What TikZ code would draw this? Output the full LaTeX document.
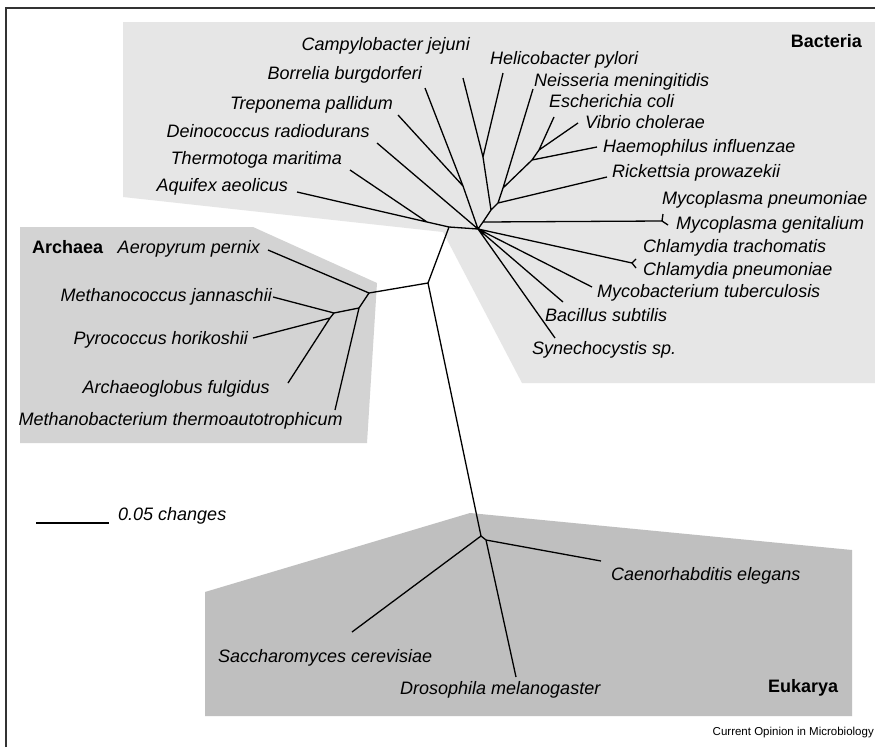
\documentclass[tikz,border=0pt]{standalone}
\usepackage{fontspec}
\setmainfont{Liberation Sans}
\definecolor{bact}{HTML}{E6E6E6}
\definecolor{arch}{HTML}{D3D3D3}
\definecolor{euk}{HTML}{BFBFBF}
\definecolor{framec}{HTML}{333333}
\begin{document}
\begin{tikzpicture}[x=1pt,y=-1pt,
  branch/.style={line width=1.3pt, black},
  sp/.style={font=\fontsize{18}{21}\selectfont\itshape, inner sep=0pt},
  dom/.style={font=\fontsize{18}{21}\selectfont\bfseries, inner sep=0pt},
  credit/.style={font=\fontsize{11.5}{14}\selectfont, inner sep=0pt},
  region/.style={draw=none}]
\useasboundingbox (0,0) rectangle (875,747);
\fill[white] (0,0) rectangle (875,747);
% shaded regions
\fill[bact] (123,22) -- (875,22) -- (875,383) -- (522,383) -- (443,232) -- (123,197) -- cycle;
\fill[arch] (20,227) -- (253,227) -- (377,283) -- (367,443) -- (20,443) -- cycle;
\fill[euk] (205,592) -- (470,513) -- (852,550) -- (852,716) -- (205,716) -- cycle;
% frame
\draw[line width=1.5pt, framec] (6,747) -- (6,8) -- (875,8);

% ---------- tree coordinates ----------
\coordinate (C) at (428,283);
% bacteria
\coordinate (J1) at (449,227);
\coordinate (J0) at (427,222);
\coordinate (H) at (478,229);
\coordinate (TB) at (463,186);
\coordinate (N1) at (483,222);
\coordinate (N2) at (491,210);
\coordinate (N3) at (498,203);
\coordinate (N4) at (503,188);
\coordinate (N5) at (532,160);
\coordinate (N6) at (539,150);
\coordinate (CH) at (483,157);
\coordinate (MY) at (662,221);
\coordinate (CL) at (632,263);
\coordinate (tAqu) at (297,192);
\coordinate (tThe) at (350,170);
\coordinate (tDei) at (377,143);
\coordinate (tTre) at (398,115);
\coordinate (tBor) at (425,88);
\coordinate (tCam) at (463,78);
\coordinate (tHel) at (503,73);
\coordinate (tNei) at (533,89);
\coordinate (tEsc) at (554,117);
\coordinate (tVib) at (578,123);
\coordinate (tHae) at (597,147);
\coordinate (tRic) at (607,177);
\coordinate (tMyp) at (663,214);
\coordinate (tMyg) at (668,225);
\coordinate (tClt) at (636,259);
\coordinate (tClp) at (636,268);
\coordinate (tMyc) at (592,287);
\coordinate (tBac) at (563,302);
\coordinate (tSyn) at (555,338);
% archaea
\coordinate (A1) at (369,293);
\coordinate (A2) at (359,308);
\coordinate (A3) at (334,313);
\coordinate (A4) at (330,318);
\coordinate (tAer) at (268,250);
\coordinate (tMba) at (335,410);
\coordinate (tMco) at (273,297);
\coordinate (tPyr) at (253,338);
\coordinate (tArc) at (288,383);
% eukarya
\coordinate (E1) at (481,536);
\coordinate (E2) at (486,540);
\coordinate (tSac) at (352,632);
\coordinate (tCae) at (601,561);
\coordinate (tDro) at (516,677);

% ---------- branches ----------
\draw[branch] (C) -- (J1) (J1) -- (H) (J1) -- (J0)
  (J0) -- (tAqu) (J0) -- (tThe)
  (H) -- (tDei) (H) -- (TB) (TB) -- (tTre) (TB) -- (tBor)
  (H) -- (N1) (N1) -- (N2) (N2) -- (N3) (N3) -- (N4) (N4) -- (N5) (N5) -- (N6)
  (N2) -- (CH) (CH) -- (tCam) (CH) -- (tHel)
  (N3) -- (tRic) (N4) -- (tNei) (N5) -- (tHae) (N6) -- (tEsc) (N6) -- (tVib)
  (N1) -- (MY) (MY) -- (tMyp) (MY) -- (tMyg)
  (H) -- (CL) (CL) -- (tClt) (CL) -- (tClp)
  (H) -- (tMyc) (H) -- (tBac) (H) -- (tSyn);
\draw[branch] (C) -- (A1) (A1) -- (tAer) (A1) -- (A2) (A2) -- (tMba)
  (A2) -- (A3) (A3) -- (tMco) (A3) -- (A4) (A4) -- (tPyr) (A4) -- (tArc);
\draw[branch] (C) -- (E1) (E1) -- (tSac) (E1) -- (E2) (E2) -- (tCae) (E2) -- (tDro);

% ---------- labels ----------
\node[dom, anchor=mid east] (lBacteria) at (862,45) {Bacteria};
\node[sp, anchor=mid east] (lCam) at (470,48) {Campylobacter jejuni};
\node[sp, anchor=mid east] (lBor) at (422,77) {Borrelia burgdorferi};
\node[sp, anchor=mid east] (lTre) at (393,107) {Treponema pallidum};
\node[sp, anchor=mid east] (lDei) at (370,135) {Deinococcus radiodurans};
\node[sp, anchor=mid east] (lThe) at (342,162) {Thermotoga maritima};
\node[sp, anchor=mid east] (lAqu) at (288,189) {Aquifex aeolicus};
\node[sp, anchor=mid west] (lHel) at (490,62) {Helicobacter pylori};
\node[sp, anchor=mid west] (lNei) at (534,84) {Neisseria meningitidis};
\node[sp, anchor=mid west] (lEsc) at (549,105) {Escherichia coli};
\node[sp, anchor=mid west] (lVib) at (585,126) {Vibrio cholerae};
\node[sp, anchor=mid west] (lHae) at (603,150) {Haemophilus influenzae};
\node[sp, anchor=mid west] (lRic) at (612,175) {Rickettsia prowazekii};
\node[sp, anchor=mid west] (lMyp) at (662,202) {Mycoplasma pneumoniae};
\node[sp, anchor=mid west] (lMyg) at (676,227) {Mycoplasma genitalium};
\node[sp, anchor=mid west] (lClt) at (643,250) {Chlamydia trachomatis};
\node[sp, anchor=mid west] (lClp) at (643,273) {Chlamydia pneumoniae};
\node[sp, anchor=mid west] (lMyc) at (597,295) {Mycobacterium tuberculosis};
\node[sp, anchor=mid west] (lBac) at (545,319) {Bacillus subtilis};
\node[sp, anchor=mid west] (lSyn) at (532,352) {Synechocystis sp.};

\node[dom, anchor=mid west] (lArchaea) at (32,251) {Archaea};
\node[sp, anchor=mid east] (lAer) at (260,251) {Aeropyrum pernix};
\node[sp, anchor=mid east] (lMco) at (272,299) {Methanococcus jannaschii};
\node[sp, anchor=mid east] (lPyr) at (248,342) {Pyrococcus horikoshii};
\node[sp, anchor=mid east] (lArc) at (270,391) {Archaeoglobus fulgidus};
\node[sp, anchor=mid east] (lMba) at (343,423) {Methanobacterium thermoautotrophicum};

\node[sp, anchor=mid west] (lCae) at (611,578) {Caenorhabditis elegans};
\node[sp, anchor=mid west] (lSac) at (218,660) {Saccharomyces cerevisiae};
\node[sp, anchor=mid west] (lDro) at (400,692) {Drosophila melanogaster};
\node[dom, anchor=mid west] (lEukarya) at (768,690) {Eukarya};

% scale bar
\coordinate (sbL) at (36,523);
\coordinate (sbR) at (109,523);
\draw[line width=1.2pt] (sbL) -- (sbR);
\node[sp, anchor=mid west] (lScale) at (118,518) {0.05 changes};

\node[credit, anchor=mid east] (lCredit) at (874,733) {Current Opinion in Microbiology};
\end{tikzpicture}
\end{document}
